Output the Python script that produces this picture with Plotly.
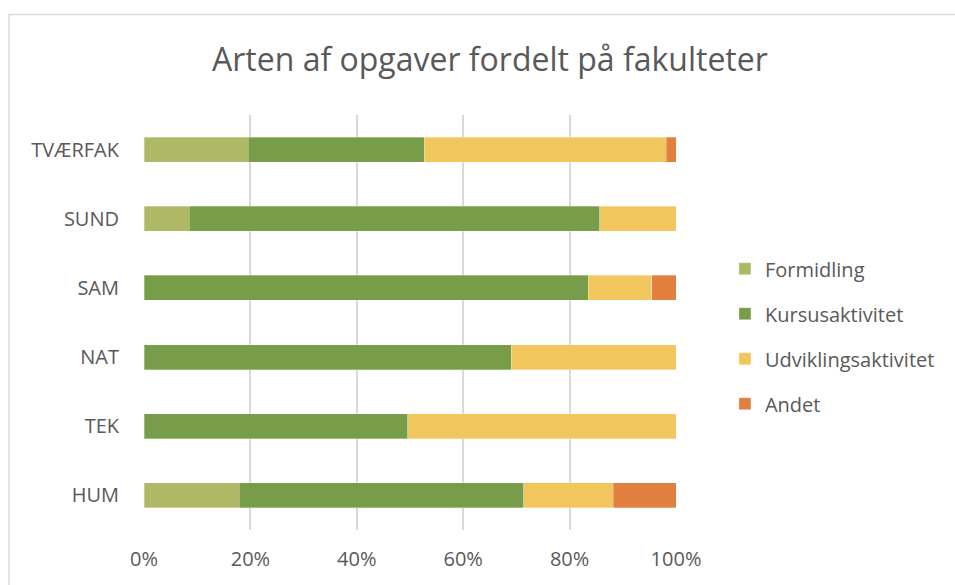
import plotly.graph_objects as go

categories = ["HUM", "TEK", "NAT", "SAM", "SUND", "TVÆRFAK"]
formidling = [17.9, 0, 0, 0, 8.5, 19.6]
kursusaktivitet = [53.5, 49.6, 69.0, 83.5, 77.2, 33.1]
udviklingsaktivitet = [16.8, 50.4, 31.0, 11.9, 14.3, 45.5]
andet = [11.8, 0, 0, 4.6, 0, 1.8]
tick_vals = [0, 20, 40, 60, 80, 100]
tick_text = ["0%", "20%", "40%", "60%", "80%", "100%"]

series = [
    ("Formidling", formidling, "#AFB865"),
    ("Kursusaktivitet", kursusaktivitet, "#789D4A"),
    ("Udviklingsaktivitet", udviklingsaktivitet, "#F1C75D"),
    ("Andet", andet, "#E07F3E"),
]

FONT = "Open Sans"
GRAY = "#595959"

fig = go.Figure()
for i, (name, vals, color) in enumerate(series):
    fig.add_trace(go.Bar(
        y=categories, x=vals, name=name, orientation="h",
        marker=dict(color=color, line=dict(color="rgba(255,255,255,0.6)", width=0.5)),
        legendgroup=f"g{i}",
    ))

fig.update_layout(
    width=955, height=585,
    barmode="stack", bargap=0.64,
    paper_bgcolor="white", plot_bgcolor="white",
    margin=dict(l=144, r=279, t=115, b=55),
    font=dict(family=FONT, color=GRAY),
    title=dict(text="Arten af opgaver fordelt på fakulteter",
               x=0.513, xanchor="center", y=0.897, yanchor="middle",
               font=dict(size=32, color=GRAY, family=FONT)),
    legend=dict(x=1.092, xanchor="left", y=0.467, yanchor="middle",
                traceorder="grouped", tracegroupgap=16,
                font=dict(size=20, color=GRAY, family=FONT),
                bgcolor="rgba(0,0,0,0)"),
    xaxis=dict(range=[0, 100], tickvals=tick_vals, ticktext=tick_text,
               showgrid=True, gridcolor="#D9D9D9", gridwidth=1.5,
               zeroline=False, showline=False,
               ticks="outside", ticklen=11, tickcolor="rgba(0,0,0,0)",
               tickfont=dict(size=20, color=GRAY, family=FONT), fixedrange=True),
    yaxis=dict(categoryorder="array", categoryarray=categories,
               showgrid=False, zeroline=False, showline=False,
               ticks="outside", ticklen=20, tickcolor="rgba(0,0,0,0)",
               tickfont=dict(size=20, color=GRAY, family=FONT), fixedrange=True),
    shapes=[dict(type="rect", xref="paper", yref="paper",
                 x0=(9 - 144) / 532, x1=(960 - 144) / 532,
                 y0=(530 - 590) / 415, y1=(530 - 14.5) / 415,
                 line=dict(color="#D9D9D9", width=1.5), fillcolor="rgba(0,0,0,0)",
                 layer="below")],
)

fig.write_html("out.html", config={"displayModeBar": False},
               post_script="document.body.style.margin='0px';document.body.style.overflow='hidden';")
